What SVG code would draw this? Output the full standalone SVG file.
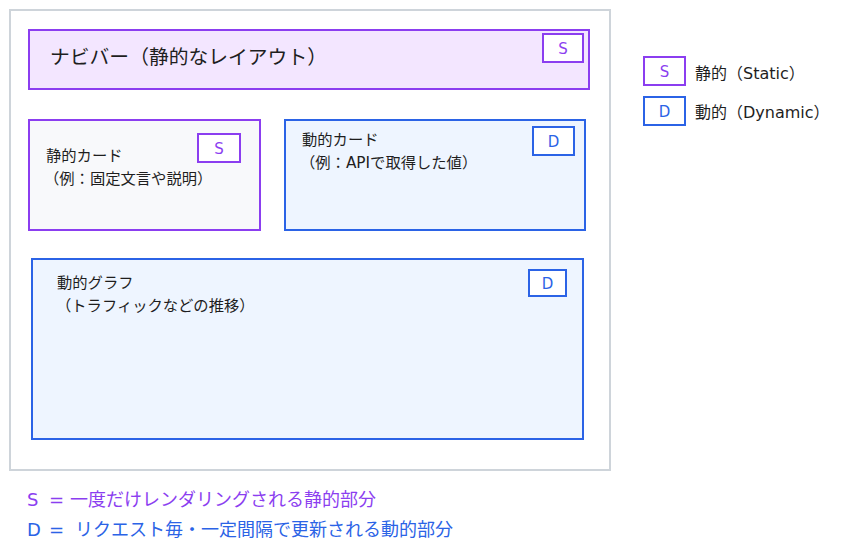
<svg xmlns="http://www.w3.org/2000/svg" width="865" height="554" viewBox="0 0 865 554">
<style>
text{font-family:"Noto Sans CJK JP","Noto Sans",sans-serif;fill:#1e1e1e}
.t{font-size:15.3px}
.lat{font-family:"DejaVu Sans",sans-serif}
.pS{stroke:#8b3ef0;stroke-width:2}
.pD{stroke:#2b63e6;stroke-width:2}
.bS{fill:#fff;stroke:#8b3ef0;stroke-width:2}
.bD{fill:#fff;stroke:#2b63e6;stroke-width:2}
.lS{font-family:"DejaVu Sans",sans-serif;font-size:15px;fill:#8b3ef0}
.lD{font-family:"DejaVu Sans",sans-serif;font-size:15px;fill:#2b63e6}
</style>
<rect width="865" height="554" fill="#fff"/>
<g id="frame"><rect x="10" y="10" width="600" height="460" fill="#fff" stroke="#ced4da" stroke-width="2"/></g>
<g id="navbar">
<rect x="29" y="30" width="560" height="59" style="fill:#f3e6ff" class="pS"/>
<text x="50" y="64" style="font-size:19.8px">ナビバー（静的なレイアウト）</text>
<rect x="543" y="34" width="40" height="28" class="bS"/>
<text x="563" y="53.5" text-anchor="middle" class="lS">S</text>
</g>
<g id="static-card">
<rect x="29" y="120" width="231" height="110" style="fill:#f8f9fb" class="pS"/>
<text x="46" y="161" class="t">静的カード</text>
<text x="44" y="184" class="t">（例：固定文言や説明）</text>
<rect x="198" y="134" width="42" height="28" class="bS"/>
<text x="219" y="153.5" text-anchor="middle" class="lS">S</text>
</g>
<g id="dynamic-card">
<rect x="285" y="120" width="300" height="110" style="fill:#eef5ff" class="pD"/>
<text x="302" y="145" class="t">動的カード</text>
<text x="300" y="168" class="t">（例：<tspan class="lat">API</tspan>で取得した値）</text>
<rect x="533" y="127" width="41" height="28" class="bD"/>
<text x="553.5" y="146.5" text-anchor="middle" class="lD">D</text>
</g>
<g id="dynamic-graph">
<rect x="32" y="259" width="551" height="180" style="fill:#eef5ff" class="pD"/>
<text x="57" y="288" class="t">動的グラフ</text>
<text x="56" y="311" class="t">（トラフィックなどの推移）</text>
<rect x="529" y="270" width="37" height="26" class="bD"/>
<text x="547.5" y="288.5" text-anchor="middle" class="lD">D</text>
</g>
<g id="legend">
<rect x="644" y="57" width="41" height="28" class="bS"/>
<text x="664.5" y="76.5" text-anchor="middle" class="lS">S</text>
<text x="695" y="79" style="font-size:16px">静的（<tspan class="lat">Static</tspan>）</text>
<rect x="644" y="97" width="41" height="28" class="bD"/>
<text x="664.5" y="116.5" text-anchor="middle" class="lD">D</text>
<text x="695" y="118" style="font-size:16px">動的（<tspan class="lat">Dynamic</tspan>）</text>
</g>
<g id="notes">
<text y="506" style="font-size:18px;fill:#8b3ef0"><tspan x="27" class="lat">S</tspan><tspan x="49" class="lat">=</tspan><tspan x="70">一度だけレンダリングされる静的部分</tspan></text>
<text y="536" style="font-size:18px;fill:#2b63e6"><tspan x="27" class="lat">D</tspan><tspan x="49" class="lat">=</tspan><tspan x="75">リクエスト毎・一定間隔で更新される動的部分</tspan></text>
</g>
<g id="connectors"/>
</svg>
